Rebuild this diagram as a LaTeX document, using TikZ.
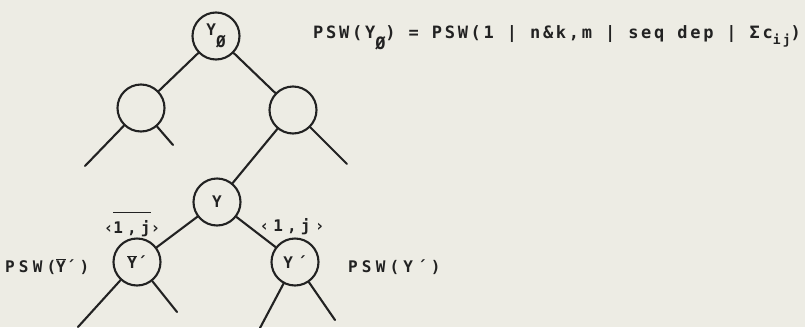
\documentclass[tikz,border=0pt]{standalone}
\usepackage{fontspec}
\usepackage{tikz}
\newfontfamily\tw[LetterSpace=16]{DejaVu Sans Mono}
\newfontfamily\twsmall[LetterSpace=26]{DejaVu Sans Mono}
\definecolor{paper}{HTML}{EDECE4}
\definecolor{ink}{HTML}{222222}

\begin{document}
\begin{tikzpicture}[x=1pt,y=-1pt]
    \tikzstyle{vertex}=[circle,draw=ink,line width=2.1pt,minimum size=47pt,inner sep=0pt,text=ink,font=\fontsize{16}{18}\twsmall\bfseries]
    \tikzstyle{edge}=[draw=ink,line width=2.1pt,line cap=round]
    \tikzstyle{tag}=[text=ink,inner sep=0pt,font=\fontsize{16}{18}\twsmall\bfseries]

    \fill[paper] (0,0) rectangle (805,327);
    \useasboundingbox (0,0) rectangle (805,327);

    % the tree
    \node[vertex] (yroot) at (216,36) {Y\raisebox{-12pt}{\fontsize{16}{18}\selectfont Ø}};
    \node[vertex] (yleft) at (141,108) {};
    \node[vertex] (yright) at (293,110) {};
    \node[vertex] (y) at (217,202) {Y};
    \node[vertex] (ybar) at (137,262) {$\overline{\hbox{Y}}$´};
    \node[vertex] (yprime) at (295,262) {Y´};

    % loose ends
    \coordinate (leftA) at (85,166);
    \coordinate (leftB) at (173,145);
    \coordinate (rightB) at (347,164);
    \coordinate (ybarA) at (78,327);
    \coordinate (ybarB) at (177,312);
    \coordinate (yprimeA) at (260,328);
    \coordinate (yprimeB) at (335,320);

    \draw [edge] (yroot) -- (yleft);
    \draw [edge] (yroot) -- (yright);
    \draw [edge] (yleft) -- (leftA);
    \draw [edge] (yleft) -- (leftB);
    \draw [edge] (yright) -- (y);
    \draw [edge] (yright) -- (rightB);
    \draw [edge] (y) -- (ybar);
    \draw [edge] (y) -- (yprime);
    \draw [edge] (ybar) -- (ybarA);
    \draw [edge] (ybar) -- (ybarB);
    \draw [edge] (yprime) -- (yprimeA);
    \draw [edge] (yprime) -- (yprimeB);

    % labels
    \node[tag,anchor=base] (pairbar) at (132,233) {‹$\overline{\hbox{\rule{0pt}{19pt}1,j}}$›};
    \node[tag,anchor=base] (pair) at (292,231) {‹1,j›};
    \node[tag,anchor=base west] (pswbar) at (5,272) {PSW($\overline{\hbox{Y}}$´)};
    \node[tag,anchor=base west] (pswprime) at (348,272) {PSW(Y´)};

    \node[text=ink,inner sep=0pt,anchor=base west,font=\fontsize{17}{19}\tw\bfseries] (eq) at (313,38)
        {PSW(Y\raisebox{-11pt}{Ø}) = PSW(1 | n\&k,m | seq dep | Σc\raisebox{-6pt}{\fontsize{13}{15}\selectfont ij})};

\end{tikzpicture}
\end{document}
